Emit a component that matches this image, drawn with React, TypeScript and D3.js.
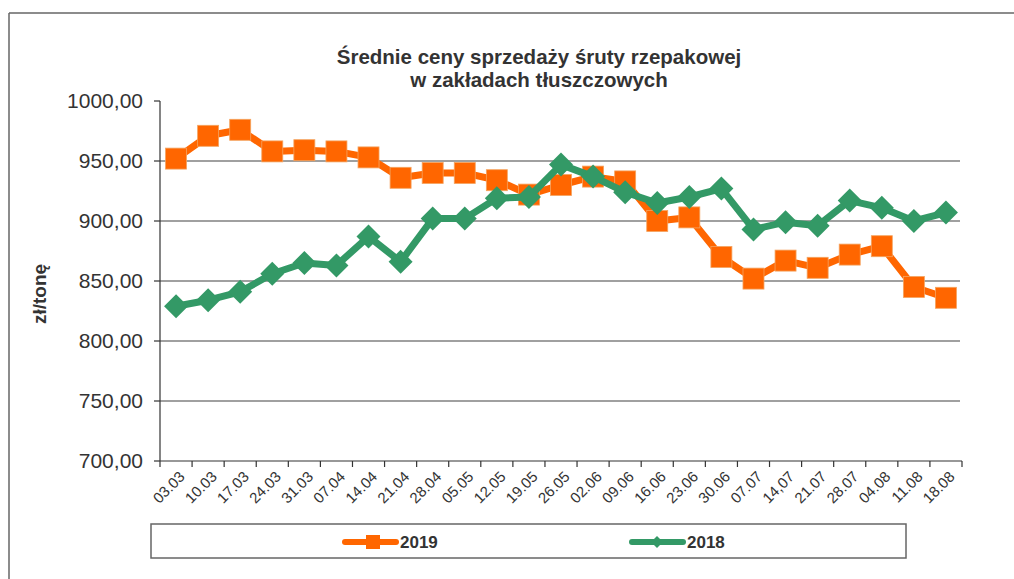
import React from "react";
import * as d3 from "d3";

const categories = ["03.03","10.03","17.03","24.03","31.03","07.04","14.04","21.04","28.04","05.05","12.05","19.05","26.05","02.06","09.06","16.06","23.06","30.06","07.07","14,07","21.07","28.07","04.08","11.08","18.08"];
const values2019 = [952,971,976,958,959,958,953,936,940,940,934,922,930,937,933,900,903,870,852,867,861,872,879,845,836];
const values2018 = [829,834,841,856,865,863,887,866,902,902,919,920,947,937,924,915,920,927,893,899,896,917,911,900,907];
const yTicks = [700,750,800,850,900,950,1000];
const gridTicks = [750,800,850,900,950];

const W = 1014, H = 579;
const left = 160, right = 962, top = 101, bottom = 461;

export default function App() {
  const x = d3.scaleBand<string>().domain(categories).range([left, right]);
  const y = d3.scaleLinear().domain([700, 1000]).range([bottom, top]);
  const cx = (c: string) => (x(c) as number) + x.bandwidth() / 2;
  const line = d3.line<number>().x((_, i) => cx(categories[i])).y((v) => y(v));
  const fmt = (v: number) => v.toFixed(2).replace(".", ",");
  const orange = "#FF6600", green = "#339966";
  const font = "'Liberation Sans', Arial, sans-serif";
  const diamond = (px: number, py: number, r: number) => `M${px},${py - r}L${px + r},${py}L${px},${py + r}L${px - r},${py}Z`;

  return (
    <svg width={W} height={H} style={{ position: "absolute", left: 0, top: 0, background: "#fff" }} fontFamily={font}>
      <rect x={0} y={0} width={W} height={H} fill="#fff" />
      {/* outer frame */}
      <line x1={9} y1={13} x2={W} y2={13} stroke="#666" strokeWidth={1.5} />
      <line x1={9} y1={13} x2={9} y2={H} stroke="#666" strokeWidth={1.5} />

      {/* title */}
      <text x={539} y={64} textAnchor="middle" fontWeight="bold" fontSize={20.5} fill="#333">Średnie ceny sprzedaży śruty rzepakowej</text>
      <text x={539} y={87} textAnchor="middle" fontWeight="bold" fontSize={20.5} fill="#333">w zakładach tłuszczowych</text>

      {/* gridlines */}
      {gridTicks.map((t) => (
        <line key={t} x1={left} x2={right - 2} y1={y(t)} y2={y(t)} stroke="#808080" strokeWidth={1.4} />
      ))}

      {/* y axis */}
      <line x1={left} x2={left} y1={top} y2={bottom} stroke="#333" strokeWidth={1.2} />
      {yTicks.map((t) => (
        <g key={t}>
          <line x1={left - 6} x2={left} y1={y(t)} y2={y(t)} stroke="#333" strokeWidth={1.2} />
          <text x={143} y={y(t)} dy="0.35em" textAnchor="end" fontSize={21} fill="#333">{fmt(t)}</text>
        </g>
      ))}
      <text transform={`translate(46,${(top + bottom) / 2 + 13}) rotate(-90)`} textAnchor="middle" fontWeight="bold" fontSize={19} fill="#333">zł/tonę</text>

      {/* x axis */}
      <line x1={left} x2={right} y1={bottom} y2={bottom} stroke="#333" strokeWidth={1.2} />
      {categories.map((c, i) => (
        <line key={"t" + i} x1={x(c) as number} x2={x(c) as number} y1={bottom} y2={bottom + 6} stroke="#333" strokeWidth={1.2} />
      ))}
      <line x1={right} x2={right} y1={bottom} y2={bottom + 6} stroke="#333" strokeWidth={1.2} />
      {categories.map((c, i) => (
        <text key={"l" + i} transform={`translate(${cx(c) + 6},${bottom + 13}) rotate(-45)`} textAnchor="end" dy="0.35em" fontSize={15} fill="#333">{c}</text>
      ))}

      {/* series 2019 */}
      <path d={line(values2019) as string} fill="none" stroke={orange} strokeWidth={7} strokeLinejoin="round" />
      {values2019.map((v, i) => (
        <rect key={"o" + i} x={cx(categories[i]) - 10.5} y={y(v) - 10.5} width={21} height={21} fill={orange} stroke="#F4A460" strokeWidth={0.8} />
      ))}
      {/* series 2018 */}
      <path d={line(values2018) as string} fill="none" stroke={green} strokeWidth={7} strokeLinejoin="round" />
      {values2018.map((v, i) => (
        <path key={"g" + i} d={diamond(cx(categories[i]), y(v), 12)} fill={green} />
      ))}

      {/* legend */}
      <rect x={151} y={524} width={755} height={34} fill="#fff" stroke="#666" strokeWidth={1.5} />
      <line x1={345} x2={396} y1={542} y2={542} stroke={orange} strokeWidth={6} strokeLinecap="round" />
      <rect x={366} y={535} width={14} height={14} fill={orange} />
      <text x={400} y={542} dy="0.35em" fontWeight="bold" fontSize={17} fill="#333">2019</text>
      <line x1={632} x2={683} y1={542} y2={542} stroke={green} strokeWidth={6} strokeLinecap="round" />
      <path d={diamond(657, 542, 6)} fill={green} />
      <text x={687} y={542} dy="0.35em" fontWeight="bold" fontSize={17} fill="#333">2018</text>
    </svg>
  );
}
